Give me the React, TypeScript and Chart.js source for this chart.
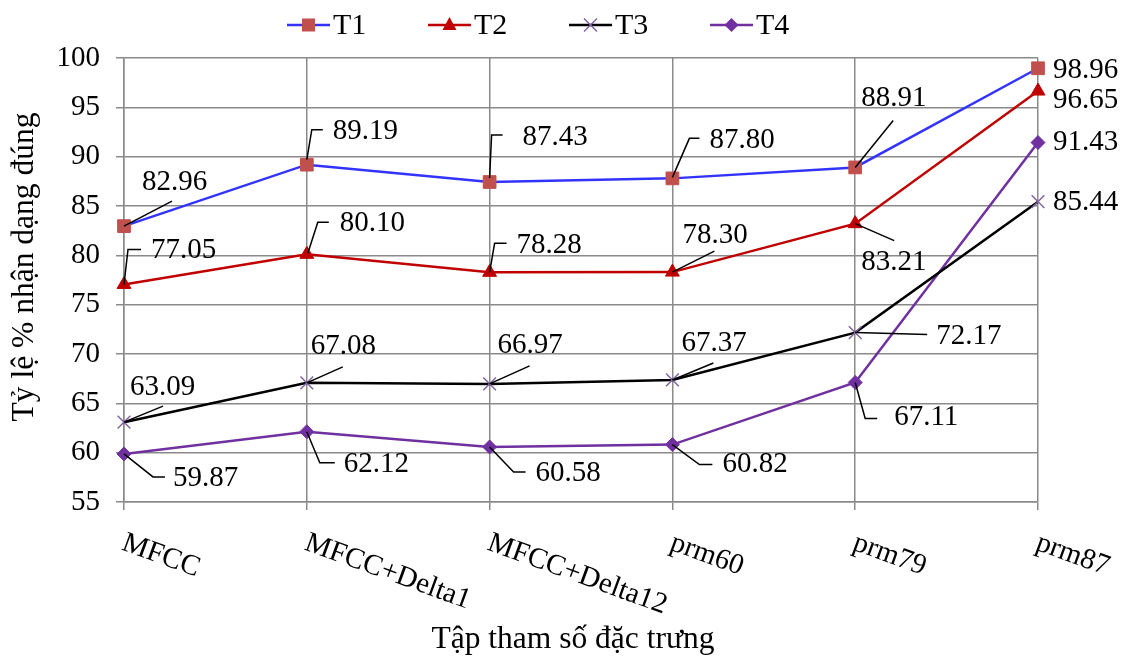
import React, { useEffect, useRef } from 'react';
import { Chart, registerables } from 'chart.js';

Chart.register(...registerables);

// ---- data ----
const categories = ['MFCC', 'MFCC+Delta1', 'MFCC+Delta12', 'prm60', 'prm79', 'prm87'];
const seriesNames = ['T1', 'T2', 'T3', 'T4'];
const t1 = [82.96, 89.19, 87.43, 87.8, 88.91, 98.96];
const t2 = [77.05, 80.1, 78.28, 78.3, 83.21, 96.65];
const t3 = [63.09, 67.08, 66.97, 67.37, 72.17, 85.44];
const t4 = [59.87, 62.12, 60.58, 60.82, 67.11, 91.43];
const yMin = 55;
const yMax = 100;
const yStep = 5;
const xTitle = 'Tập tham số đặc trưng';
const yTitle = 'Tỷ lệ % nhận dạng đúng';

// ---- label callouts: text offset (left edge, middle) and leader path, relative to the point ----
type Callout = { dx: number; dy: number; leader: number[][] };
const calloutsT1: Callout[] = [
  { dx: 18, dy: -44, leader: [[0, 0], [48, -25]] },
  { dx: 26, dy: -33, leader: [[0, -5], [5, -35], [16, -35]] },
  { dx: 33, dy: -45, leader: [[0, -4], [2, -47], [13, -47]] },
  { dx: 37, dy: -38, leader: [[0, -1], [17, -40], [27, -40]] },
  { dx: 6, dy: -69, leader: [[0, 0], [38, -47]] },
  { dx: 15, dy: 2, leader: [] },
];
const calloutsT2: Callout[] = [
  { dx: 27, dy: -34, leader: [[0, 0], [4, -35], [17, -35]] },
  { dx: 33, dy: -31, leader: [[1, -1], [11, -32], [22, -32]] },
  { dx: 27, dy: -27, leader: [[0, 0], [5, -29], [17, -29]] },
  { dx: 10, dy: -37, leader: [[0, 0], [42, -21]] },
  { dx: 6, dy: 39, leader: [[0, 0], [39, 17]] },
  { dx: 15, dy: 9, leader: [] },
];
const calloutsT3: Callout[] = [
  { dx: 6, dy: -35, leader: [[0, 0], [39, -16]] },
  { dx: 4, dy: -36, leader: [[0, 0], [36, -16]] },
  { dx: 8, dy: -39, leader: [[0, 0], [40, -18]] },
  { dx: 9, dy: -37, leader: [[0, 0], [41, -17]] },
  { dx: 81, dy: 4, leader: [[0, 0], [72, 2]] },
  { dx: 15, dy: 1, leader: [] },
];
const calloutsT4: Callout[] = [
  { dx: 49, dy: 24, leader: [[0, 0], [29, 23], [41, 23]] },
  { dx: 37, dy: 33, leader: [[0, 0], [13, 31], [28, 31]] },
  { dx: 46, dy: 26, leader: [[0, 0], [24, 25], [36, 25]] },
  { dx: 50, dy: 20, leader: [[0, 0], [27, 20], [40, 20]] },
  { dx: 39, dy: 35, leader: [[0, 0], [10, 36], [22, 36]] },
  { dx: 15, dy: 0, leader: [] },
];
const callouts = [calloutsT1, calloutsT2, calloutsT3, calloutsT4];

// ---- styles ----
const FONT = '"Liberation Serif", "Times New Roman", serif';
const GRID = '#8a8a8a';
const lineColors = ['#3333FF', '#C00000', '#000000', '#7030A0'];
const markerColors = ['#C0504D', '#C00000', '#8064A2', '#7030A0'];
const markerStyles = ['rect', 'triangle', 'crossRot', 'rectRot'];
const markerRadius = [9, 8, 9, 7];
const legendX = [287, 428, 569, 710];

function drawMarker(ctx: CanvasRenderingContext2D, style: string, x: number, y: number, color: string) {
  ctx.save();
  ctx.fillStyle = color;
  ctx.strokeStyle = color;
  ctx.beginPath();
  if (style === 'rect') {
    ctx.fillRect(x - 6.5, y - 6.5, 13, 13);
  } else if (style === 'triangle') {
    ctx.moveTo(x, y - 8);
    ctx.lineTo(x + 7, y + 5);
    ctx.lineTo(x - 7, y + 5);
    ctx.closePath();
    ctx.fill();
  } else if (style === 'crossRot') {
    ctx.lineWidth = 1.5;
    ctx.moveTo(x - 6.5, y - 6.5);
    ctx.lineTo(x + 6.5, y + 6.5);
    ctx.moveTo(x + 6.5, y - 6.5);
    ctx.lineTo(x - 6.5, y + 6.5);
    ctx.stroke();
  } else {
    ctx.moveTo(x, y - 7);
    ctx.lineTo(x + 7, y);
    ctx.lineTo(x, y + 7);
    ctx.lineTo(x - 7, y);
    ctx.closePath();
    ctx.fill();
  }
  ctx.restore();
}

const decorations = {
  id: 'decorations',
  afterDraw(chart: any) {
    const ctx: CanvasRenderingContext2D = chart.ctx;
    const xs = chart.scales.x;
    const ys = chart.scales.y;
    ctx.save();

    // category labels, slanted downward
    ctx.fillStyle = '#000';
    ctx.font = `29px ${FONT}`;
    ctx.textAlign = 'left';
    ctx.textBaseline = 'middle';
    categories.forEach((c, i) => {
      const x = xs.getPixelForValue(i);
      ctx.save();
      ctx.translate(x - 1, ys.bottom + 40);
      ctx.rotate((20 * Math.PI) / 180);
      ctx.fillText(c, 0, 0);
      ctx.restore();
    });

    // value labels with leader lines
    chart.data.datasets.forEach((ds: any, si: number) => {
      const meta = chart.getDatasetMeta(si);
      meta.data.forEach((pt: any, i: number) => {
        const co = callouts[si][i];
        const px = pt.x;
        const py = pt.y;
        if (co.leader.length > 1) {
          ctx.beginPath();
          ctx.strokeStyle = '#000';
          ctx.lineWidth = 1.5;
          co.leader.forEach((p, k) => {
            if (k === 0) ctx.moveTo(px + p[0], py + p[1]);
            else ctx.lineTo(px + p[0], py + p[1]);
          });
          ctx.stroke();
        }
        ctx.fillStyle = '#000';
        ctx.font = `29px ${FONT}`;
        ctx.textAlign = 'left';
        ctx.textBaseline = 'middle';
        ctx.fillText((ds.data[i] as number).toFixed(2), px + co.dx, py + co.dy);
      });
    });

    // legend
    seriesNames.forEach((name, si) => {
      const x0 = legendX[si];
      const y0 = 25;
      ctx.beginPath();
      ctx.strokeStyle = lineColors[si];
      ctx.lineWidth = 2.5;
      ctx.moveTo(x0, y0);
      ctx.lineTo(x0 + 43, y0);
      ctx.stroke();
      drawMarker(ctx, markerStyles[si], x0 + 21.5, y0, markerColors[si]);
      ctx.fillStyle = '#000';
      ctx.font = `30px ${FONT}`;
      ctx.textAlign = 'left';
      ctx.textBaseline = 'middle';
      ctx.fillText(name, x0 + 46, y0 + 1);
    });

    // axis titles
    ctx.font = `31.5px ${FONT}`;
    ctx.textAlign = 'center';
    ctx.textBaseline = 'middle';
    ctx.fillText(xTitle, 573, 640);
    ctx.save();
    ctx.translate(25, 267);
    ctx.rotate(-Math.PI / 2);
    ctx.fillText(yTitle, 0, 0);
    ctx.restore();

    ctx.restore();
  },
};

export default function App() {
  const canvasRef = useRef<HTMLCanvasElement | null>(null);

  useEffect(() => {
    if (!canvasRef.current) return;
    const series = [t1, t2, t3, t4];
    const chart = new Chart(canvasRef.current, {
      type: 'line',
      data: {
        labels: categories,
        datasets: series.map((values, si) => ({
          label: seriesNames[si],
          data: values,
          borderColor: lineColors[si],
          backgroundColor: markerColors[si],
          borderWidth: 2.5,
          tension: 0,
          fill: false,
          pointStyle: markerStyles[si] as any,
          pointRadius: markerRadius[si],
          pointHoverRadius: markerRadius[si],
          pointBackgroundColor: markerColors[si],
          pointBorderColor: markerColors[si],
          pointBorderWidth: si === 2 ? 1.5 : 1,
        })),
      },
      options: {
        animation: false,
        responsive: false,
        maintainAspectRatio: false,
        layout: { padding: { top: 58, right: 83, bottom: 0, left: 0 } },
        plugins: {
          legend: { display: false },
          tooltip: { enabled: false },
          title: { display: false },
        },
        scales: {
          x: {
            type: 'category',
            offset: false,
            grid: {
              offset: false,
              color: GRID,
              lineWidth: 1.5,
              drawTicks: true,
              tickLength: 8,
            },
            border: { display: true, color: GRID, width: 1.5 },
            ticks: { display: false },
            afterFit: (scale: any) => {
              scale.height = 155;
            },
          },
          y: {
            min: yMin,
            max: yMax,
            grid: { color: GRID, lineWidth: 1.5, drawTicks: true, tickLength: 8 },
            border: { display: true, color: GRID, width: 1.5 },
            ticks: {
              stepSize: yStep,
              color: '#000',
              padding: 16,
              font: { family: FONT, size: 29 },
            },
            afterFit: (scale: any) => {
              scale.width = 124;
            },
          },
        },
      },
      plugins: [decorations],
    });
    return () => chart.destroy();
  }, []);

  return (
    <div style={{ position: 'absolute', left: 0, top: 0, width: 1121, height: 657, background: '#fff' }}>
      <canvas ref={canvasRef} width={1121} height={657} style={{ display: 'block' }} />
    </div>
  );
}
